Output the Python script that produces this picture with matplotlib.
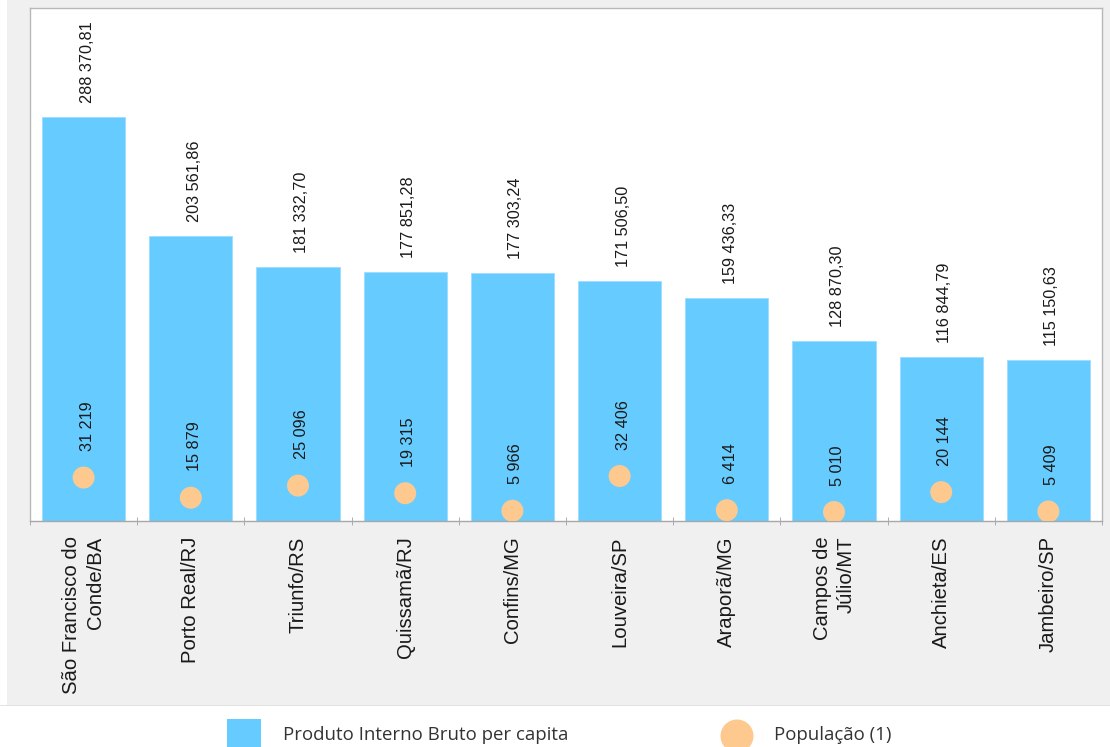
import matplotlib
matplotlib.use("Agg")
import matplotlib.pyplot as plt
from matplotlib.patches import Rectangle, Ellipse

categories = ["São Francisco do\nConde/BA", "Porto Real/RJ", "Triunfo/RS", "Quissamã/RJ",
              "Confins/MG", "Louveira/SP", "Araporã/MG", "Campos de\nJúlio/MT",
              "Anchieta/ES", "Jambeiro/SP"]
pib_values = [288370.81, 203561.86, 181332.70, 177851.28, 177303.24,
              171506.50, 159436.33, 128870.30, 116844.79, 115150.63]
pib_labels = ["288 370,81", "203 561,86", "181 332,70", "177 851,28", "177 303,24",
              "171 506,50", "159 436,33", "128 870,30", "116 844,79", "115 150,63"]
pop_values = [31219, 15879, 25096, 19315, 5966, 32406, 6414, 5010, 20144, 5409]
pop_labels = ["31 219", "15 879", "25 096", "19 315", "5 966",
              "32 406", "6 414", "5 010", "20 144", "5 409"]

BLUE = "#66ccff"
ORANGE = "#fec98f"
W, H = 1110, 747

plt.rcParams['font.family'] = ['Liberation Sans', 'DejaVu Sans']

fig = plt.figure(figsize=(W / 100, H / 100), dpi=100, facecolor="white")
# gray background panel
fig.patches.append(Rectangle((7 / W, 1 - 705 / H), 1 - 7 / W, 705 / H,
                             transform=fig.transFigure, facecolor="#f0f0f0",
                             edgecolor="none", zorder=-5))
fig.patches.append(Rectangle((0, 1 - 706 / H), 1, 1.5 / H,
                             transform=fig.transFigure, facecolor="#e2e2e2",
                             edgecolor="none", zorder=-5))

left, right, top, bottom = 30, 1102, 8, 521
ax = fig.add_axes([left / W, 1 - bottom / H, (right - left) / W, (bottom - top) / H])
ax.set_facecolor("white")
x = list(range(len(categories)))
ax.bar(x, pib_values, width=0.775, color=BLUE, edgecolor="#9ddcff", linewidth=0.6, zorder=2)
ax.set_xlim(-0.5, len(categories) - 0.5)
ax.set_ylim(0, 366300)
ax.set_yticks([])
for s in ax.spines.values():
    s.set_color("#b8b8b8")
    s.set_linewidth(1)
ax.spines['bottom'].set_color("#a8a8a8")

for xi, v, lab in zip(x, pib_values, pib_labels):
    ax.annotate(lab, (xi, v), xytext=(2.5, 10), textcoords="offset points",
                rotation=90, ha="center", va="bottom", fontsize=11.7, color="#1a1a1a")

ax.set_xticks(x)
ax.set_xticklabels(categories, rotation=90, fontsize=14.6, color="#1a1a1a")
for lbl in ax.get_xticklabels():
    lbl.set_multialignment("right")
    lbl.set_linespacing(1.3)
ax.tick_params(axis="x", which="major", length=0, pad=11)
ax.set_xticks([i - 0.5 for i in range(len(categories) + 1)], minor=True)
ax.tick_params(axis="x", which="minor", length=6, direction="inout", color="#a0a0a0")

ax2 = ax.twinx()
ax2.set_ylim(-1830, 388600)
ax2.set_yticks([])
for s in ax2.spines.values():
    s.set_visible(False)
ax2.scatter(x, pop_values, s=250, color=ORANGE, edgecolors="none", zorder=3)
for xi, v, lab in zip(x, pop_values, pop_labels):
    ax2.annotate(lab, (xi, v), xytext=(2.5, 19), textcoords="offset points",
                 rotation=90, ha="center", va="bottom", fontsize=11.7, color="#1a1a1a")

# legend
fig.patches.append(Rectangle((227 / W, 0), 34 / W, (747 - 719) / H,
                             transform=fig.transFigure, facecolor=BLUE, edgecolor="none"))
fig.patches.append(Ellipse((737 / W, 1 - 736 / H), 33 / W, 33 / H,
                           transform=fig.transFigure, facecolor=ORANGE, edgecolor="none"))
fig.text(283 / W, 1 - 735 / H, "Produto Interno Bruto per capita", fontsize=13.4,
         family=["Open Sans", "DejaVu Sans"], color="#333333", va="center", ha="left")
fig.text(774 / W, 1 - 735 / H, "População (1)", fontsize=13.4,
         family=["Open Sans", "DejaVu Sans"], color="#333333", va="center", ha="left")

fig.savefig("out.png", dpi=100, facecolor=fig.get_facecolor())
